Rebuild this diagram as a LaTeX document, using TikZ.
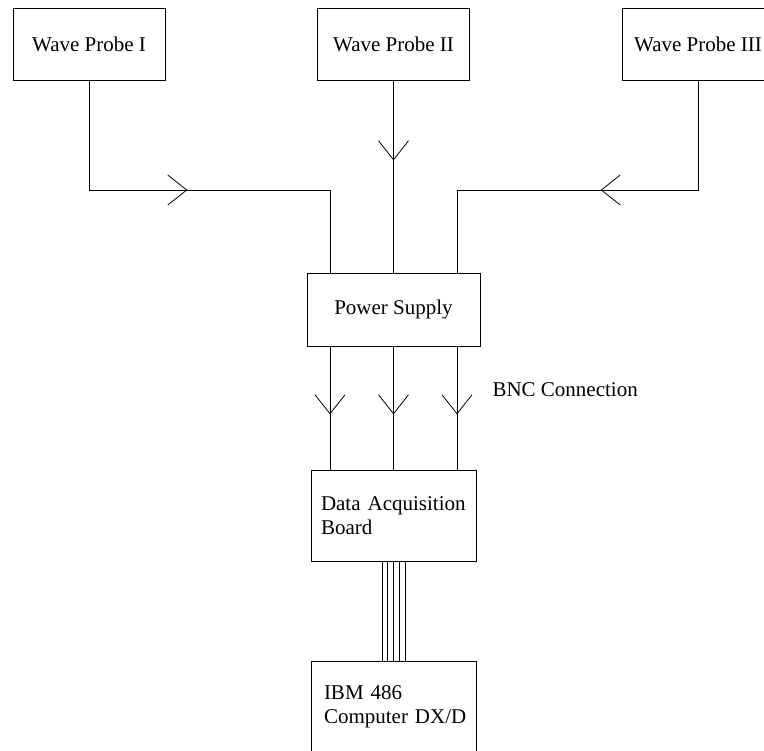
\documentclass[tikz,border=0pt]{standalone}
\usepackage{fontspec}
\setmainfont{Liberation Serif}
\usetikzlibrary{arrows.meta,decorations.markings}

\begin{document}
\begin{tikzpicture}[
        x=1pt, y=-1pt,
        block/.style={
            draw,
            rectangle,
            line width=0.8pt,
            minimum width=152pt,
            minimum height=72pt,
            font=\fontsize{21}{24}\selectfont,
            text centered
        },
        wire/.style={
            line width=0.8pt
        },
        midarrow/.style={
            postaction={decorate},
            decoration={markings, mark=at position #1 with {\arrow{Straight Barb[length=19pt,width=30pt]}}}
        }
    ]
    \useasboundingbox (0,0) rectangle (764,751);

    \node[block] (probeI) at (89,44) {Wave Probe I};
    \node[block] (probeII) at (393.5,44) {Wave Probe II};
    \node[block] (probeIII) at (698,44) {Wave Probe III};
    \node[block, minimum width=173pt, minimum height=73pt] (power) at (393.5,309.5) {Power Supply};
    \node[block, minimum width=165pt, minimum height=91pt, text width=145pt, inner xsep=10pt, align=left] (daq) at (393.5,515.5) {Data Acquisition\\Board};
    \node[block, minimum width=165pt, minimum height=91pt, text width=149pt, inner xsep=8pt, align=left] (ibm) at (393.5,706.5) {\hspace*{5pt}IBM 486\\\hspace*{5pt}Computer DX/D};
    \node[font=\fontsize{21}{24}\selectfont, anchor=west] (bnc) at (489,390) {BNC Connection};

    \coordinate (jI) at (330,190);
    \coordinate (jIII) at (457,190);

    \draw[wire, midarrow=208pt] (probeI.south) |- (jI) -- (jI |- power.north);
    \draw[wire, midarrow=80pt] (probeII.south) -- (power.north);
    \draw[wire, midarrow=207pt] (probeIII.south) |- (jIII) -- (jIII |- power.north);

    \foreach \dx in {-63.5,0,63.5}
        \draw[wire, midarrow=68pt] ([xshift=\dx pt]power.south) -- ([xshift=\dx pt]daq.north);

    \foreach \dx in {-11.5,-5.75,0,5.75,11.5}
        \draw[wire] ([xshift=\dx pt]daq.south) -- ([xshift=\dx pt]ibm.north);

\end{tikzpicture}
\end{document}
